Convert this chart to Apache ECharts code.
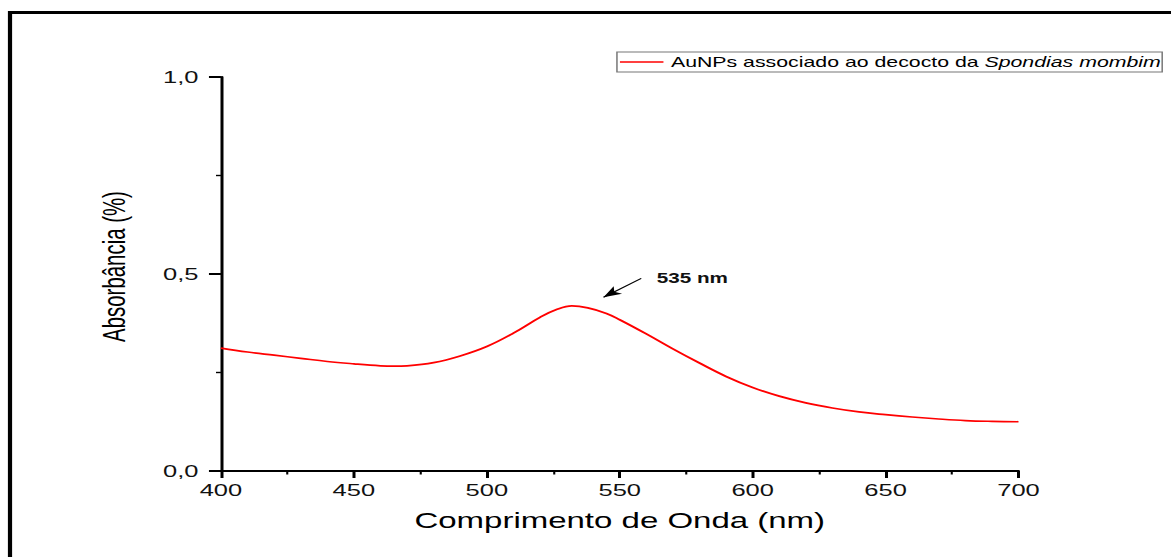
<!DOCTYPE html>
<html>
<head>
<meta charset="utf-8">
<title>Absorbância AuNPs</title>
<script src="https://cdn.jsdelivr.net/npm/echarts@6/dist/echarts.min.js"></script>
<style>
  html, body { margin: 0; padding: 0; background: #fff; overflow: hidden; }
  /* the plot is laid out on a narrower canvas and widened horizontally */
  #chart { width: 780.67px; height: 557px; transform: scaleX(1.5); transform-origin: 0 0; }
</style>
</head>
<body>
<div id="chart"></div>
<script>
// UV-Vis spectrum (nm vs absorbance)
const wavelength = [400, 410, 420, 430, 440, 450, 460, 465, 470, 480, 490, 500, 510, 520, 526, 532, 538, 545, 550, 560, 570, 580, 590, 600, 610, 620, 630, 640, 650, 660, 670, 680, 690, 700];
const absorbance = [0.312, 0.302, 0.294, 0.286, 0.278, 0.272, 0.267, 0.266, 0.267, 0.275, 0.292, 0.316, 0.350, 0.390, 0.409, 0.419, 0.414, 0.400, 0.384, 0.348, 0.310, 0.274, 0.240, 0.212, 0.190, 0.173, 0.160, 0.150, 0.143, 0.137, 0.132, 0.128, 0.126, 0.125];

const seriesName = 'AuNPs associado ao decocto da Spondias mombim';
const legendPlain = 'AuNPs associado ao decocto da ';
const legendItalic = 'Spondias mombim';

const xTitle = 'Comprimento de Onda (nm)';
const yTitle = 'Absorbância (%)';

// peak annotation: arrow tip, arrow tail and text anchor (data units)
const peakText = '535 nm';
const arrowTip = [543.9, 0.441];
const arrowTail = [558.1, 0.489];
const peakTextAt = [577.3, 0.489];

const decimalComma = v => v.toFixed(1).replace('.', ',');

const chart = echarts.init(document.getElementById('chart'), null, { renderer: 'svg' });

const font = '"Liberation Sans", Arial, sans-serif';

chart.setOption({
  animation: false,
  backgroundColor: '#fff',
  textStyle: { fontFamily: font },
  graphic: [{
    type: 'rect',
    silent: true,
    shape: { x: 6.67, y: 12.5, width: 900, height: 700 },
    style: { fill: 'none', stroke: '#000', lineWidth: 2.8 }
  }],
  grid: { left: 147.3, right: 102, top: 77, bottom: 86, containLabel: false },
  legend: {
    left: 411.3,
    top: 52,
    padding: [3, 1, 3, 2],
    borderColor: '#777',
    borderWidth: 1,
    icon: 'rect',
    itemWidth: 29,
    itemHeight: 1.3,
    data: [seriesName],
    formatter: () => '{n|' + legendPlain + '}{i|' + legendItalic + '}',
    textStyle: {
      fontFamily: font,
      color: '#000',
      rich: {
        n: { fontFamily: font, fontSize: 14.2, color: '#000' },
        i: { fontFamily: font, fontSize: 14.2, color: '#000', fontStyle: 'italic' }
      }
    }
  },
  xAxis: {
    type: 'value',
    min: 400,
    max: 700,
    interval: 50,
    name: xTitle,
    nameLocation: 'middle',
    nameGap: 39,
    nameTextStyle: { fontFamily: font, fontSize: 22, color: '#000' },
    axisLine: { show: true, onZero: false, lineStyle: { color: '#000', width: 2 } },
    axisTick: { show: true, inside: false, length: 7, lineStyle: { color: '#000', width: 2 } },
    minorTick: { show: true, splitNumber: 2, length: 3.5, lineStyle: { color: '#000', width: 1.4 } },
    axisLabel: { margin: 11, fontFamily: font, fontSize: 17, color: '#111' },
    splitLine: { show: false }
  },
  yAxis: {
    type: 'value',
    min: 0,
    max: 1,
    interval: 0.5,
    name: yTitle,
    nameLocation: 'middle',
    nameRotate: 90,
    nameGap: 61,
    nameTextStyle: { fontFamily: font, fontSize: 20.4, color: '#000', padding: [0, 0, 0, 15] },
    axisLine: { show: true, onZero: false, lineStyle: { color: '#000', width: 2 } },
    axisTick: { show: true, inside: false, length: 8, lineStyle: { color: '#000', width: 2 } },
    minorTick: { show: true, splitNumber: 2, length: 3.3, lineStyle: { color: '#000', width: 1.4 } },
    axisLabel: { margin: 15, fontFamily: font, fontSize: 17, color: '#111', formatter: decimalComma },
    splitLine: { show: false }
  },
  series: [{
    name: seriesName,
    type: 'line',
    smooth: 0.4,
    symbol: 'none',
    data: wavelength.map((w, i) => [w, absorbance[i]]),
    lineStyle: { color: '#ff0000', width: 1.7 },
    itemStyle: { color: '#ff0000' },
    markLine: {
      silent: true,
      animation: false,
      symbol: ['arrow', 'none'],
      symbolSize: [7, 12],
      label: { show: false },
      lineStyle: { color: '#000', width: 1, type: 'solid' },
      data: [[{ coord: arrowTip }, { coord: arrowTail }]]
    },
    markPoint: {
      silent: true,
      symbol: 'circle',
      symbolSize: 0,
      data: [{
        coord: peakTextAt,
        label: {
          show: true,
          position: 'inside',
          formatter: peakText,
          fontFamily: font,
          fontSize: 13.8,
          fontWeight: 'bold',
          color: '#111'
        }
      }]
    }
  }]
});
</script>
</body>
</html>
